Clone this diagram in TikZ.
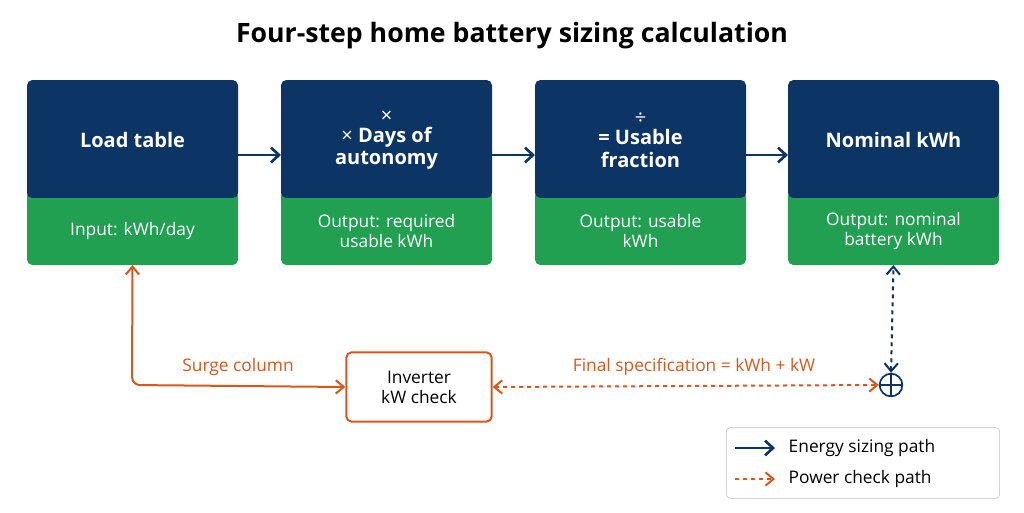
\documentclass[tikz,border=0pt]{standalone}
\usepackage{fontspec}
\setmainfont{Open Sans}
\newfontfamily\symf{DejaVu Sans}
\usetikzlibrary{arrows.meta}
\definecolor{navy}{HTML}{0C3465}
\definecolor{grn}{HTML}{22A052}
\definecolor{org}{HTML}{D9571A}
\begin{document}
\begin{tikzpicture}[x=0.75pt,y=-0.75pt,
 top/.style={fill=navy,rounded corners=4pt},
 bot/.style={fill=grn,rounded corners=4pt},
 ttl/.style={text=white,font=\bfseries\fontsize{15}{17}\selectfont,align=center},
 sub/.style={text=white,font=\fontsize{13}{15}\selectfont,align=center},
 narr/.style={navy,line width=2pt,-{Straight Barb[length=6pt,width=11pt]}},
 oarr/.style={org,line width=1.5pt,-{Straight Barb[length=6pt,width=10pt]}},
 lbl/.style={font=\fontsize{13}{15}\selectfont}]
\path[use as bounding box,fill=white] (0,0) rectangle (1024,512);
\node[font=\bfseries\fontsize{20}{24}\selectfont] (title) at (512,36) {Four-step home battery sizing calculation};
\foreach \i/\x in {1/27,2/281,3/535,4/788}{
 \fill[bot] (\x,190) rectangle ++(211,75);
 \fill[top] (\x,80) rectangle ++(211,118);
 \fill[grn] (\x,198) rectangle ++(211,6);
 \coordinate (b\i) at (\x+105.5,140);
 \coordinate (g\i) at (\x+105.5,231);
 \coordinate (L\i) at (\x,155);
 \coordinate (R\i) at (\x+211,155);
 \coordinate (B\i) at (\x+105.5,265);
}
\node[ttl] (t1) at (b1) {Load table};
\node[ttl] (t2) at (b2) {{\symf\normalfont ×}\\[-2pt]{\symf\normalfont ×} Days of\\autonomy};
\node[ttl] (t3) at (b3) {{\symf\normalfont ÷}\\[-2pt]= Usable\\fraction};
\node[ttl] (t4) at (b4) {Nominal kWh};
\node[sub] (s1) at (g1) {Input: kWh/day};
\node[sub] (s2) at (g2) {Output: required\\usable kWh};
\node[sub] (s3) at (g3) {Output: usable\\kWh};
\node[sub] (s4) at (g4) {Output: nominal\\battery kWh};
\draw[narr] (R1) -- (L2);
\draw[narr] (R2) -- (L3);
\draw[narr] (R3) -- (L4);
\node[draw=org,line width=1.5pt,rounded corners=4pt,minimum width=109pt,minimum height=52pt,align=center,lbl] (inv) at (419,387) {Inverter\\kW check};
\node[circle,draw=navy,line width=1.3pt,minimum size=17pt,inner sep=0pt] (plus) at (891,385) {};
\draw[navy,line width=1.3pt] (plus.north) -- (plus.south) (plus.west) -- (plus.east);
\draw[oarr,rounded corners=6pt,{Straight Barb[length=6pt,width=10pt]}-{Straight Barb[length=6pt,width=10pt]}] (B1) -- (132,385) -- (inv.west);
\node[lbl,text=org] (surge) at (238,367) {Surge column};
\draw[oarr,dashed,{Straight Barb[length=6pt,width=10pt]}-{Straight Barb[length=6pt,width=10pt]}] (inv.east) -- (plus.west);
\node[lbl,text=org] (fin) at (694,367) {Final specification = kWh + kW};
\draw[navy,line width=1.5pt,dashed,{Straight Barb[length=6pt,width=10pt]}-{Straight Barb[length=6pt,width=10pt]}] (plus.north) -- (B4);
\node[draw=black!25,rounded corners=3pt,minimum width=205pt,minimum height=53pt] (leg) at (863,463) {};
\coordinate (l1a) at (735,448); \coordinate (l1b) at (775,448);
\coordinate (l2a) at (735,479); \coordinate (l2b) at (775,479);
\draw[narr] (l1a) -- (l1b);
\draw[oarr,dashed] (l2a) -- (l2b);
\node[lbl,anchor=west] (e1) at (784,448) {Energy sizing path};
\node[lbl,anchor=west] (e2) at (784,479) {Power check path};
\end{tikzpicture}
\end{document}
